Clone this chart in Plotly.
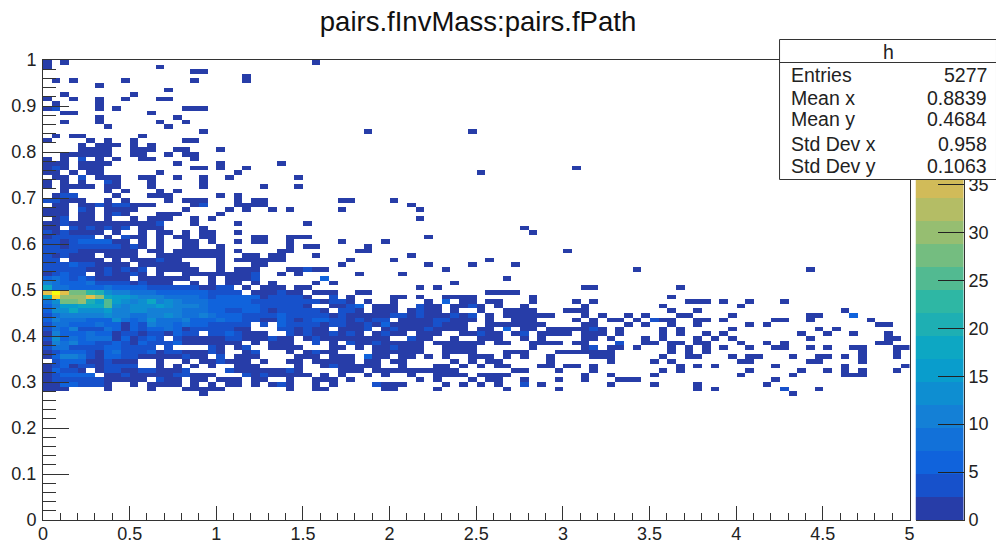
import numpy as np
import plotly.graph_objects as go

# ---------------- data ----------------
n_x_bins = 100
n_y_bins = 100
x_range = [0, 5]
y_range = [0, 1]
z_max = 48
n_levels = 20

# sparse upper rows: index 0 is the top row (y 0.99-1.00); "col" or "col=count"
upper_rows = [
 "0 2 31", "0 13", "17 18", "23", "1 3 9 17 23", "6", "14", "2 10", "0 3 6 9 13 14", "1 6",
 "0 1=3 6 8 16 17 18", "2 3 12", "6 15", "2 6 13 16", "7 14", "18 37 49", "1 3 4 11",
 "0 5 7 10 16 17", "4 6 7 8 10 12", "4 5 6 7 10 11 12 15 16 20", "2 3 4 5 6 7 10 11 14 16 17",
 "0 2 4=3 6 8 11 12 17", "0 1 2 4 5 6 7 15 20 27", "0 1=3 2 4 5 6 17 18 20 23 61",
 "0 1 3 5 6 13 22 50", "1 2 4=3 6 7 8 11 12 15 18 21 29", "0 2 4 7=3 8 12 18",
 "0 2 3 4 5 7 8 12 18 25 29", "2 7 9 13 15", "1 2=3 3=3 8 12 13 14 20 22",
 "0=3 1=3 2 3 4 7 9 14 16 17 18 22 24 25 34 35 40",
 "1 2 4 5 6=3 7 8=3 9=3 10 11 12 17 18=3 22 23 24 25 42",
 "0 1 2 4=3 5 7 8 9 10 16 21 23 26 28 34 43", "0 1 2 4 5 7 8=3 9 13 14 15 20",
 "1 2=3 4 5 7 10 12 13 14 17 19 43", "0 1 2=3 3 4 5 6 7 8 9 10 11 12 13=3 17 22 30",
 "0 1 3=3 4 5=3 6 7=3 8 9=3 11 12 13 18 55",
]

# dense left block, rows 37-71, columns 0-31
left_rows = [
 "3 1 3 1 1 1 1 . 1 . . 1 . 1 1 . 1 . 1 1 . . 1 . . . . . . . . .",
 "1 3 3 3 3 3 . 1 . 3 1 1 . 1 . 1 1 . 1 1 . . . . 1 1 . . 1 1 1 .",
 "3 3 1 3 6 6 6 6 1 1 . 1 . 1 . . 1 1 . 1 . . 1 . 1 1 . . 1 . . .",
 "3 3 1 3 3 3 3 3 3 1 3 1 . 1 . . 1 1 . . 1 . . . . . . . 1 . 1 1",
 "3 3 3 3 1 1 1 1 1 1 1 . 1 1 . 1 1 1 1 1 1 . 1 . . . . 1 1 . . .",
 "3 1 3 1 1 1 . 1 1 1 1 . . 1 1 1 1 1 1 1 1 . . 1 1 . 1 1 . . . 1",
 "3 3 . 1 1 1 1 . 1 . 1 1 1 3 1 1 . . . . 1 . 1 1 1 1 1 1 . . . .",
 "3 3 3 6 3 3 1 1 1 1 . 1 1 1 1 1 1 . . . 1 . . . 1 1 . . . . . .",
 "3 3 3 3 3 1 1 3 1 3 1 3 . 1 1 1 1 1 . . 1 . 1 1 1 . . . 1 1 3 1",
 "1 3 6 3 3 . 1 3 1 1 3 1 . 1 . . 1 1 1 1 1 1 1 1 3 . . 1 . 1 . .",
 "6 8 6 3 6 3 1 1 1 1 . 1 1 1 1 1 1 . . 1 . 1 1 1 3 . . . . . . .",
 "11 8 6 6 6 8 3 3 3 3 1 3 1 1 1 . . 1 . 1 . 1 1 . 1 . 1 . . . . 1",
 "18 8 8 6 6 6 6 8 6 6 6 6 3 3 3 3 3 3 1 1 3 3 . 1 . 1 1 1 . 1 1 .",
 "36 48 36 28 27 22 20 14 11 11 8 8 8 6 6 6 6 6 6 3 3 3 3 . 1 1 1 3 1 1 . 1",
 "18 42 31 29 29 38 30 19 16 16 14 11 11 11 8 8 8 8 6 3 6 6 6 6 6 1 3 3 3 3 1 .",
 "8 14 27 28 29 20 16 25 16 14 11 14 19 11 14 11 8 8 8 6 6 6 6 6 3 3 3 3 3 3 3 3",
 "6 11 16 16 18 18 18 26 14 11 14 14 14 16 14 11 11 11 8 6 6 6 6 6 6 3 3 3 3 3 1 .",
 "6 14 14 18 14 14 14 16 11 11 14 14 11 11 11 11 8 8 8 6 6 3 3 6 6 3 1 3 3 3 3 3",
 "3 8 11 11 11 11 11 14 11 11 8 8 11 11 14 11 8 8 11 8 6 6 6 3 3 3 3 6 3 3 3 3",
 "6 11 8 8 8 6 6 6 14 8 6 8 14 8 8 8 11 6 6 6 8 6 6 3 3 1 1 6 3 1 3 6",
 "3 8 8 6 6 6 8 6 6 1 6 3 11 8 8 6 8 6 6 3 3 3 3 3 . 3 . 6 3 3 3 3",
 "3 8 6 11 3 3 3 8 6 1 6 3 6 6 8 6 1 3 3 3 3 3 1 1 . . . 3 3 1 3 1",
 "1 11 6 6 6 8 6 6 1 3 3 1 3 3 1 6 3 3 . 3 3 6 3 1 1 1 . . 3 1 3 1",
 "3 14 6 8 6 8 8 8 1 6 1 3 6 3 . 3 1 1 1 1 1 3 3 1 1 1 3 1 1 . 1 3",
 "1 11 8 11 6 6 3 3 6 3 1 6 3 3 3 6 1 1 1 1 1 1 1 . 1 . 1 1 1 . . 3",
 "3 8 8 3 3 3 3 6 6 3 3 3 3 . 3 . . . . 3 1 . 1 3 . . 1 1 1 1 . .",
 "1 3 6 6 6 3 1 6 8 3 3 3 6 1 3 3 1 1 1 3 1 . . 1 3 . . . 1 . 1 3",
 "1 6 11 11 8 3 1 6 6 3 3 1 1 1 1 1 3 1 1 . 3 . 1 1 1 . . . . 1 1 1",
 ". 3 6 6 6 1 1 3 1 1 1 . . 1 . . 1 . 1 1 3 1 1 1 . 1 . . 1 1 . 1",
 "1 3 6 1 3 3 1 3 3 3 3 . . 1 . 1 . 1 . 1 . . 1 1 1 . . . . 1 . .",
 "1 6 3 3 1 . 1 3 3 1 1 3 3 1 1 1 3 . . . . 3 1 1 1 1 1 1 3 1 . .",
 "1 3 6 6 6 6 . 1 1 3 1 1 1 1 1 3 3 1 1 1 . . . 3 1 3 1 1 1 1 1 .",
 "1 3 3 3 3 3 3 1 1 1 1 1 . 3 1 1 . 1 1 . 1 1 1 . 1 1 . . 1 . . 1",
 "1 1 6 6 3 3 3 1 . . 1 . 1 1 1 1 . 1 . 1 . 1 1 . 1 . 1 3 1 . . 1",
 "1 1 1 . . . . 1 . . . . 1 . . . 1 1 1 1 1 . . . . . . . 1 . . 1",
]

# sparse right block, rows 37-72, columns 32-99
right_rows = [
 "56", "44", "34 39", "37", "36 37 60", "42", "35 40 51", "34 44 49 54",
 "32 46 68 88", "36 41", "32=6 53", "33 47", "43 45 62 63 73",
 "32 33 36 37 51 52 53 54",
 "33=3 35 40 41 43 46 47 48 49 56 72",
 "32 33=3 34=3 35 37 40 44 46=6 48 49 51 52 56 61 63 74 75 76 78 81 85",
 "33 34 35=3 36=6 38 39 40 43=3 44 45 47 48 49=3 50 52 55 62 71 80",
 "32 34=3 35=3 36 38 39 40 42 43=3 44 45 47 50 53 54 55 56 60 61 62 72 75 92",
 "32=3 33 34=3 35 36 37 38 39 40=3 41=3 42 43=3 44 45 46 47=3 48 49=3 51 53 54 55 56 57 58 62 64 67 69 73 74 79 88 89 93=6",
 "32=6 33=3 34=3 35 36=3 37 38=3 39=3 41 42 43 44 45=3 46=3 47 48 49 51 54 55 56 61 63 65 66 68 70=3 71 72 75 76 78 84 85 88 95",
 "32 33=3 34=3 35 36 37=3 38 39=6 40 41 42 43 44 45=3 46 47 48 51 52 53 54 55 56 57 62 63 67 69 72 75 81 83 96 97",
 "32 34 35 36 37=3 39 40=3 41 42 43 44=3 45 46 47 48 50 51 53=6 55 56 58 59 60 61 62 63=3 64 66 71 73 79 89 91",
 "32 33=3 34 35=3 36 38 39=3 40 41 43 44 45 48 49 50=3 51 52 54 55=3 57 58 59 60 62 63 64 66 71 73 76 78 87 90 93 97",
 "32 33 34 35 36 37 38 39 42=3 43 44 47 50 51 52 55 57 62 63 65 69 71 75 77 79 88 97 98",
 "33 35=3 36 37 38=3 39 40 41 42 43 45 46 47 48 49 50 52 53 56 57 58 59 61 62 66=3 69 70 72 73 75 76 80 83 85 96 97",
 "33 34 36 38 39 40=3 41 42 43 46 47 48 49 56 62 63=3 65 66 68 72 74 76 78 81 84 85 88 90 93 94 98 99",
 "32 33 38 39 40 41 42 43 46 47 48 49 53 54 55 59 60 61 62 63 64 65 72 74 76 94 98",
 "33 34 35 37=6 38 39 41 42 44 46 49 50 51 53 55 58 63 64 65 71 74 75 79 81 82 86 89 90 92 94 98",
 "32 33 34 35 37 38 40 41 47 49 51 52 58 65 70 72 80 81 88 89 94",
 "32 33=3 34 35 36 37 38 41 45 46 48 50 52 53 57 58 60 61 63 73 75 77 84 92 99",
 "34 35 36 38 39 40 41 42 43 44 45 46 47 54 55 59 63 71 73 81 87 90 92 94 98",
 "32 34 37 39 42 45 46 47 48 50 51 52 53 62 65 70 80 86 92 93 94",
 "32 33 35 43 45 49 51 52 55 59 62 66 67 68 84",
 "33 38=3 39 40 41 46 48 50 52 55=3 57 65 70 75 83",
 "32 39 40 45 53 59 75 77 85=3 89",
 "18 86",
]

title_text = "pairs.fInvMass:pairs.fPath"
stats_name = "h"
stats_labels = ["Entries", "Mean x", "Mean y", "Std Dev x", "Std Dev y"]
stats_values = ["5277", "0.8839", "0.4684", "0.958", "0.1063"]
x_ticks = [0, 0.5, 1, 1.5, 2, 2.5, 3, 3.5, 4, 4.5, 5]
x_tick_text = ["0", "0.5", "1", "1.5", "2", "2.5", "3", "3.5", "4", "4.5", "5"]
y_ticks = [0, 0.1, 0.2, 0.3, 0.4, 0.5, 0.6, 0.7, 0.8, 0.9, 1]
y_tick_text = ["0", "0.1", "0.2", "0.3", "0.4", "0.5", "0.6", "0.7", "0.8", "0.9", "1"]
z_ticks = [0, 5, 10, 15, 20, 25, 30, 35]

# kBird palette stops
bird_r = [0.2082, 0.0592, 0.0780, 0.0232, 0.1802, 0.5301, 0.8186, 0.9956, 0.9764]
bird_g = [0.1664, 0.3599, 0.5041, 0.6419, 0.7178, 0.7492, 0.7328, 0.7862, 0.9832]
bird_b = [0.5293, 0.8684, 0.8385, 0.7914, 0.6425, 0.4662, 0.3499, 0.1968, 0.0539]

# ---------------- assemble ----------------
counts = [[None] * n_x_bins for _ in range(n_y_bins)]


def put(row, col, value):
    counts[n_y_bins - 1 - row][col] = value


def parse_sparse(row, text):
    for tok in text.split():
        if "=" in tok:
            c, v = tok.split("=")
            put(row, int(c), int(v))
        else:
            put(row, int(tok), 1)


for r, text in enumerate(upper_rows):
    parse_sparse(r, text)
for r, text in enumerate(left_rows):
    for c, tok in enumerate(text.split()[:32]):
        if tok != ".":
            put(37 + r, c, int(tok))
for r, text in enumerate(right_rows):
    parse_sparse(37 + r, text)

x_edges = np.linspace(x_range[0], x_range[1], n_x_bins + 1)
y_edges = np.linspace(y_range[0], y_range[1], n_y_bins + 1)

stops = np.linspace(0, 1, len(bird_r))
band_colors = []
for i in range(n_levels):
    t = int((i + 0.99) * 255 / n_levels) / 254
    rgb = [int(round(255 * np.interp(t, stops, ch))) for ch in (bird_r, bird_g, bird_b)]
    band_colors.append(f"rgb({rgb[0]},{rgb[1]},{rgb[2]})")
colorscale = []
for i, col in enumerate(band_colors):
    colorscale.append([i / n_levels, col])
    colorscale.append([(i + 1) / n_levels, col])

band_edges = np.linspace(0, z_max, n_levels + 1)
band_mid = (band_edges[:-1] + band_edges[1:]) / 2

# ---------------- figure ----------------
W, H = 996, 548
L, R, T, B = 43.3, 910, 60, 520
BAR_L, BAR_R = 916, 964.5
FONT = "Liberation Sans, Arial, sans-serif"
INK = "#333333"


def px(xp):
    return (xp - L) / (BAR_R - L)


def py(yp):
    return (B - yp) / (B - T)


fig = go.Figure()
fig.add_trace(go.Heatmap(
    x=x_edges, y=y_edges, z=counts, zmin=0, zmax=z_max, colorscale=colorscale,
    showscale=False, hoverongaps=False, xaxis="x", yaxis="y"))
fig.add_trace(go.Heatmap(
    x=[0, 1], y=band_edges, z=[[v] for v in band_mid], zmin=0, zmax=z_max,
    colorscale=colorscale, showscale=False, xaxis="x2", yaxis="y2"))

axis_font = dict(family=FONT, size=18, color="#222222")
fig.update_layout(
    width=W, height=H, autosize=False,
    margin=dict(l=L, r=W - BAR_R, t=T, b=H - B, pad=0, autoexpand=False),
    paper_bgcolor="white", plot_bgcolor="white",
    font=dict(family=FONT),
    title=dict(text=title_text, x=478 / W, xanchor="center", y=1 - 21 / H, yanchor="middle",
               font=dict(family=FONT, size=27.5, color="#111111")),
    xaxis=dict(domain=[0, px(R)], range=x_range, tickvals=x_ticks, ticktext=x_tick_text,
               ticks="inside", ticklen=14, tickwidth=1, tickcolor=INK,
               minor=dict(dtick=0.1, ticks="inside", ticklen=7, tickwidth=1, tickcolor=INK, showgrid=False),
               showline=True, linecolor=INK, linewidth=1, mirror=True, showgrid=False, zeroline=False,
               tickfont=axis_font, tickangle=0, anchor="y", ticklabelstandoff=-3),
    yaxis=dict(domain=[0, 1], range=y_range, tickvals=y_ticks, ticktext=y_tick_text,
               ticks="inside", ticklen=26, tickwidth=1, tickcolor=INK,
               minor=dict(dtick=0.02, ticks="inside", ticklen=13, tickwidth=1, tickcolor=INK, showgrid=False),
               showline=True, linecolor=INK, linewidth=1, mirror=True, showgrid=False, zeroline=False,
               tickfont=axis_font, anchor="x", ticklabelstandoff=2),
    xaxis2=dict(domain=[px(BAR_L), 1], range=[0, 1], anchor="y2",
                showticklabels=False, ticks="", showgrid=False, zeroline=False,
                showline=True, linecolor=INK, linewidth=1),
    yaxis2=dict(domain=[0, 1], range=[0, z_max], anchor="x2", side="right",
                tickvals=z_ticks, ticktext=[str(v) for v in z_ticks],
                ticks="inside", ticklen=26, tickwidth=1, tickcolor="#222222",
                showline=True, linecolor=INK, linewidth=1, showgrid=False, zeroline=False,
                tickfont=axis_font),
    shapes=[
        dict(type="rect", xref="paper", yref="paper", x0=px(780), x1=px(997), y0=py(179.5), y1=py(39.5),
             fillcolor="white", line=dict(color=INK, width=1), layer="above"),
        dict(type="line", xref="paper", yref="paper", x0=px(780), x1=px(997), y0=py(62.5), y1=py(62.5),
             line=dict(color=INK, width=1), layer="above"),
    ],
)

stats_y = [75, 98, 119, 144, 166]
annotations = [dict(text=stats_name, x=px(889), y=py(52), xref="paper", yref="paper",
                    xanchor="center", yanchor="middle", showarrow=False,
                    font=dict(family=FONT, size=19.5, color="#222222"))]
for lab, val, yp in zip(stats_labels, stats_values, stats_y):
    annotations.append(dict(text=lab, x=px(789), y=py(yp), xref="paper", yref="paper",
                            xanchor="left", yanchor="middle", showarrow=False,
                            font=dict(family=FONT, size=19.5, color="#222222")))
    annotations.append(dict(text=val, x=px(990), y=py(yp), xref="paper", yref="paper",
                            xanchor="right", yanchor="middle", showarrow=False,
                            font=dict(family=FONT, size=19.5, color="#222222")))
fig.update_layout(annotations=annotations)

fig.write_html("out.html", post_script="document.body.style.margin='0';",
               config={"displayModeBar": False})
